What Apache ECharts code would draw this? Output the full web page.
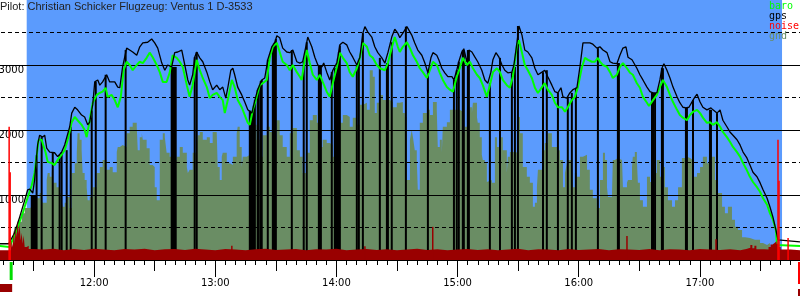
<!DOCTYPE html>
<html>
<head>
<meta charset="utf-8">
<script src="https://cdn.jsdelivr.net/npm/echarts@6/dist/echarts.min.js"></script>
<style>
html, body { margin: 0; padding: 0; background: #fff; }
#chart { width: 800px; height: 300px; }
</style>
</head>
<body>
<div id="chart"></div>
<script>
// time = minutes after midnight, heights in m
const title = 'Pilot: Christian Schicker Flugzeug: Ventus 1 D-3533';
const legendNames = ['baro', 'gps', 'noise', 'gnd'];
const legendColors = ['#00ff00', '#000000', '#ff0000', '#6a8d64'];
const solidLevels = [1000, 2000, 3000];
const dashLevels = [500, 1500, 2500, 3500];

const logStart = 673.2, takeoff = 678.9, landing = 1069.1;
const flight = [686.6, 1060.7]; // blue background span

const gps = [[673.2,250],[677.7,250],[678.2,250],[680.6,420],[683.1,660],[685.6,920],[687.1,1080],[688.1,1090],[689.6,1030],[690.5,1230],[692.0,1770],[693.0,1920],[694.5,1890],[695.5,1920],[696.5,1720],[698.0,1660],[700.4,1650],[701.9,1590],[703.9,1660],[705.4,1770],[707.9,2050],[708.9,2260],[710.4,2350],[711.8,2310],[713.8,2230],[715.3,2200],[716.8,2080],[717.8,2120],[719.3,2390],[720.3,2740],[721.8,2770],[722.8,2690],[724.2,2740],[726.2,2850],[727.7,2740],[730.2,2740],[731.7,2660],[732.7,2650],[734.1,2970],[736.1,3260],[737.6,3230],[739.1,3200],[741.1,3150],[742.6,3280],[744.1,3340],[746.5,3350],[748.5,3400],[750.0,3340],[751.5,3260],[753.5,3030],[755.0,2920],[756.4,3000],[758.4,2970],[759.9,3190],[761.4,3200],[763.4,3230],[764.9,3000],[766.4,2770],[767.3,2690],[768.8,2850],[769.8,3120],[770.8,3200],[772.3,3110],[773.8,3050],[775.8,2890],[777.3,2740],[778.7,2620],[780.7,2690],[782.2,2620],[783.7,2660],[785.2,2490],[786.2,2650],[787.7,2920],[788.7,2950],[789.6,2850],[791.1,2660],[793.1,2540],[794.6,2430],[796.1,2310],[798.1,2260],[799.6,2460],[801.0,2620],[803.0,2770],[804.5,2800],[806.0,3080],[808.0,3280],[809.5,3350],[810.5,3450],[811.9,3420],[813.4,3260],[815.4,3200],[816.9,3190],[818.4,3230],[820.4,3050],[821.9,3030],[823.3,3050],[825.3,3350],[825.8,3430],[827.8,3280],[829.3,3120],[830.8,3000],[832.8,2970],[833.7,3030],[835.2,2890],[836.7,2770],[838.2,2920],[840.2,3030],[841.7,3310],[843.2,3350],[845.1,3310],[846.6,3200],[848.1,3120],[850.1,3000],[851.6,3120],[853.1,3490],[854.1,3590],[855.5,3510],[857.5,3430],[859.0,3280],[860.5,3190],[862.5,3110],[864.0,3030],[865.5,3190],[867.4,3430],[868.9,3550],[870.4,3490],[871.4,3420],[872.9,3490],[874.9,3590],[875.4,3600],[877.3,3460],[878.8,3340],[880.3,3230],[882.3,3150],[883.8,3030],[885.3,2880],[886.8,3110],[887.8,3190],[889.7,3150],[890.7,3080],[892.2,2950],[893.7,2880],[895.2,2820],[897.2,2820],[898.2,2770],[899.6,2920],[900.6,3050],[902.1,3200],[903.1,3250],[904.6,3050],[905.6,3230],[907.1,3200],[908.6,3120],[910.0,3050],[912.0,2920],[913.5,2770],[915.0,2720],[916.5,2890],[917.5,3080],[919.0,3190],[920.5,3120],[922.0,3000],[923.4,2920],[924.9,2880],[926.9,2890],[927.9,3000],[929.4,3340],[930.4,3600],[931.9,3460],[933.3,3230],[934.8,3200],[936.8,3110],[938.3,2950],[939.8,2850],[941.8,2890],[943.2,2920],[944.7,2820],[946.7,2690],[948.2,2590],[949.7,2570],[951.2,2650],[952.2,2510],[954.1,2490],[955.6,2570],[957.1,2620],[959.1,2650],[960.6,2970],[962.1,3340],[964.1,3340],[965.5,3340],[967.0,3320],[969.0,3260],[970.5,3280],[972.0,3230],[974.0,3190],[975.5,3050],[976.9,3030],[978.9,3020],[980.4,3150],[981.9,3260],[983.4,3280],[984.4,3120],[986.4,3080],[988.8,2950],[990.3,2850],[991.8,2770],[993.8,2660],[995.3,2590],[996.8,2570],[998.7,2570],[1000.2,2770],[1001.2,2950],[1002.2,3020],[1003.7,2920],[1005.2,2800],[1006.7,2660],[1008.7,2510],[1010.1,2420],[1011.6,2350],[1013.1,2340],[1014.6,2350],[1016.6,2460],[1017.6,2510],[1018.6,2550],[1020.1,2430],[1021.5,2350],[1023.5,2310],[1025.5,2340],[1026.5,2310],[1028.5,2260],[1030.0,2310],[1031.4,2150],[1033.4,2050],[1034.9,1970],[1036.4,1920],[1038.4,1850],[1039.9,1770],[1041.4,1660],[1043.3,1570],[1044.8,1460],[1046.3,1350],[1048.3,1280],[1049.8,1190],[1051.3,1080],[1053.3,950],[1054.7,820],[1056.2,660],[1057.7,460],[1058.7,310],[1059.2,280],[1069.6,280]];

const baro = [[673.2,215],[678.2,200],[679.6,310],[681.6,460],[683.1,590],[684.6,720],[686.6,920],[689.1,1150],[690.5,1340],[691.5,1590],[692.5,1850],[694.0,1850],[694.5,1820],[696.0,1650],[697.0,1510],[699.0,1490],[700.4,1460],[701.9,1540],[703.9,1620],[705.4,1690],[706.9,1850],[708.9,2120],[710.4,2200],[711.8,2150],[713.8,2080],[715.3,2000],[716.3,1890],[717.8,2150],[719.3,2420],[721.3,2540],[722.8,2570],[724.2,2590],[725.7,2650],[726.7,2510],[728.7,2540],[730.2,2460],[731.7,2350],[733.2,2510],[734.6,2920],[736.1,3050],[737.6,3000],[739.1,2920],[741.1,3000],[742.6,3050],[744.1,3030],[746.0,3110],[747.5,3190],[749.0,3120],[751.0,3000],[752.5,2890],[754.0,2740],[755.9,2740],[757.4,2880],[758.9,3150],[760.9,3110],[762.4,3050],[763.9,2970],[765.9,2690],[767.3,2510],[768.8,2690],[770.8,3080],[772.3,2920],[773.8,2800],[775.8,2660],[777.3,2490],[778.7,2540],[780.7,2570],[782.2,2510],[783.7,2460],[784.7,2260],[786.2,2460],[788.2,2770],[789.6,2660],[791.1,2460],[793.1,2350],[794.6,2230],[796.1,2110],[797.1,2080],[798.6,2310],[800.5,2510],[802.0,2690],[803.5,2720],[805.5,2770],[807.0,3110],[808.5,3280],[810.5,3340],[811.9,3200],[813.4,3050],[815.4,3000],[816.9,2920],[818.4,3000],[820.4,2890],[821.9,2820],[822.8,2770],[824.3,3080],[825.3,3230],[826.8,3030],[828.3,2850],[830.3,2770],[831.8,2850],[833.2,2740],[835.2,2590],[836.7,2510],[838.2,2720],[840.2,2970],[841.7,3190],[843.2,3110],[845.1,3030],[846.6,2890],[848.1,2820],[850.1,2950],[851.6,3110],[853.1,3340],[855.1,3280],[856.5,3150],[858.0,3110],[860.0,3000],[861.5,2950],[864.0,2920],[865.5,3030],[867.4,3260],[868.9,3430],[870.4,3280],[871.4,3200],[872.9,3280],[874.9,3350],[876.4,3260],[877.9,3150],[879.8,3050],[881.3,2950],[882.8,2890],[884.8,2800],[886.3,2920],[887.8,3050],[889.7,3000],[891.2,2880],[892.7,2770],[894.7,2660],[896.2,2620],[897.7,2590],[899.6,2820],[901.1,2950],[902.6,3110],[904.6,3000],[906.1,3050],[907.6,2950],[909.6,2850],[911.0,2800],[912.5,2690],[914.5,2510],[916.0,2690],[917.5,2890],[919.5,2950],[921.0,2890],[922.4,2770],[924.4,2690],[925.9,2650],[927.4,2820],[929.4,3310],[930.4,3380],[931.9,3190],[933.3,3000],[934.8,2920],[936.8,2800],[938.3,2650],[939.8,2570],[941.8,2660],[943.2,2720],[944.7,2620],[946.7,2540],[948.2,2420],[949.7,2350],[951.7,2350],[953.2,2280],[954.6,2350],[956.6,2460],[958.1,2510],[959.6,2660],[961.6,2970],[963.1,3110],[964.6,3080],[966.5,3050],[968.0,3050],[969.5,3110],[970.5,3050],[972.0,3000],[974.0,2970],[975.5,2890],[976.9,2800],[978.9,2850],[980.4,2970],[981.9,3030],[983.9,2950],[985.4,2880],[986.8,2850],[988.8,2720],[990.3,2650],[991.8,2510],[993.8,2420],[994.8,2370],[996.8,2460],[998.7,2540],[1000.2,2660],[1001.7,2770],[1003.7,2660],[1005.2,2540],[1006.7,2430],[1008.7,2310],[1010.1,2230],[1011.6,2190],[1013.6,2150],[1015.1,2230],[1016.6,2280],[1018.6,2310],[1020.1,2260],[1021.5,2190],[1023.5,2110],[1025.0,2120],[1026.5,2080],[1028.5,2120],[1030.0,2050],[1031.4,1970],[1033.4,1890],[1034.9,1820],[1036.4,1740],[1038.4,1660],[1039.9,1590],[1041.4,1490],[1043.3,1380],[1044.8,1280],[1046.3,1200],[1048.3,1120],[1049.8,1050],[1051.3,950],[1053.3,850],[1054.7,720],[1056.2,620],[1057.7,460],[1058.2,230],[1069.6,215]];

const gnd = [[673.2,0],[680.1,0],[680.6,420],[682.1,510],[684.1,590],[685.6,720],[686.6,800],[688.1,800],[689.6,820],[691.5,920],[692.0,1000],[693.0,950],[694.0,1030],[694.5,920],[696.5,880],[697.0,1230],[698.0,1340],[699.0,1280],[699.5,1390],[701.4,1190],[702.9,1120],[703.9,1030],[704.4,920],[705.4,820],[706.4,880],[707.9,970],[708.9,800],[710.4,1340],[711.4,1490],[711.8,1650],[712.8,1950],[713.8,1850],[714.3,1690],[715.3,1340],[716.3,1230],[716.8,1120],[717.8,920],[719.3,970],[721.3,1120],[722.8,1340],[724.2,1430],[726.2,1540],[727.7,1390],[729.2,1430],[731.2,1350],[731.7,1660],[732.7,1740],[734.1,1770],[736.1,1740],[737.6,1950],[739.1,2050],[741.1,2110],[741.6,2050],[742.6,1690],[743.6,1890],[744.1,1950],[746.0,1850],[747.5,1720],[749.0,1460],[750.0,1430],[751.0,1120],[752.5,920],[754.0,1850],[755.0,1950],[755.9,1890],[757.4,1650],[758.9,1590],[760.9,1540],[762.4,1590],[763.9,1740],[765.9,1650],[766.4,1430],[767.3,1340],[768.8,1390],[770.8,1650],[771.3,1740],[772.3,1920],[773.8,1970],[775.8,1850],[777.3,1890],[778.7,1800],[780.7,1970],[781.2,2000],[782.2,1430],[783.2,1230],[783.7,1590],[785.7,1650],[787.2,1490],[788.7,1460],[790.6,1590],[791.1,1950],[792.1,2050],[793.1,1740],[793.6,1430],[795.6,1590],[797.1,1620],[798.6,2000],[800.5,2080],[802.0,1850],[803.5,1590],[805.5,1920],[807.0,2050],[808.5,1970],[810.5,1850],[811.9,2150],[813.4,1920],[815.4,1740],[816.9,1590],[818.4,1950],[820.4,2030],[821.9,1690],[823.3,1590],[825.3,1340],[826.8,1650],[828.3,2150],[830.3,2230],[831.8,2110],[833.2,1740],[835.2,1850],[836.7,1800],[838.2,1770],[840.2,1590],[841.7,2050],[843.2,2110],[845.1,2230],[846.6,2200],[848.1,2050],[850.1,2190],[851.6,2080],[853.1,2390],[855.1,2420],[856.5,2310],[858.0,2920],[859.0,2820],[860.0,2260],[861.5,2420],[863.0,2540],[865.0,2460],[866.4,2460],[867.9,2430],[869.9,2350],[871.4,2420],[872.9,2430],[873.9,2260],[874.9,2200],[876.4,1230],[877.3,1850],[877.9,2000],[878.8,1890],[879.8,1690],[880.3,1540],[881.3,1080],[882.8,2110],[884.8,2260],[885.3,2430],[886.3,2310],[887.8,2230],[889.7,2430],[890.2,2310],[891.2,1740],[892.2,1850],[892.7,1650],[894.7,2050],[896.2,2120],[897.2,2310],[899.6,2310],[901.1,2310],[902.6,2280],[903.6,1970],[904.6,2050],[906.1,2310],[907.1,2350],[907.6,2260],[909.6,2420],[910.0,2200],[911.0,2110],[912.0,1890],[912.5,1620],[913.5,1540],[914.5,1490],[915.0,1200],[917.0,1230],[918.5,1190],[919.5,1890],[921.0,1740],[922.4,1890],[924.4,1690],[924.9,1340],[925.9,1590],[926.9,1660],[928.4,1660],[929.9,1650],[930.9,2200],[932.3,1950],[934.3,1430],[935.8,1280],[937.3,1190],[938.3,820],[939.3,880],[939.8,1120],[941.8,1390],[943.2,1690],[944.7,1800],[946.7,1950],[948.2,1740],[949.7,1740],[950.7,1690],[952.2,1540],[953.2,1120],[954.1,1340],[954.6,1490],[956.6,1540],[957.1,1430],[958.1,1120],[959.1,1340],[960.6,1280],[962.1,1590],[964.1,1620],[965.5,1390],[967.0,1080],[969.0,950],[970.5,800],[972.0,1230],[973.0,1650],[974.0,1540],[974.5,1120],[976.4,970],[976.9,920],[977.9,1540],[979.4,1570],[981.4,1540],[981.9,1590],[983.9,1120],[984.4,1190],[986.4,1230],[986.8,1430],[987.8,1590],[988.8,1660],[989.3,1540],[990.3,1190],[991.8,920],[993.8,820],[995.3,1280],[996.8,1200],[998.7,1340],[1000.2,1540],[1001.2,1280],[1002.7,1430],[1004.2,1120],[1006.2,920],[1007.7,820],[1009.2,920],[1011.1,1120],[1012.6,1570],[1013.6,1590],[1015.1,1570],[1016.6,1540],[1018.6,1280],[1020.1,1340],[1021.5,1430],[1023.5,1590],[1025.0,1490],[1027.5,1590],[1029.0,1230],[1031.0,1030],[1032.4,820],[1033.9,720],[1035.9,820],[1037.4,620],[1038.9,510],[1040.9,460],[1042.4,350],[1044.8,340],[1047.3,310],[1049.8,310],[1051.3,260],[1053.3,230],[1054.7,260],[1056.2,200],[1058.2,190],[1059.7,0],[1069.6,0]];

const noise = [[673.2,150],[677.5,150],[678.7,160],[679.2,300],[679.7,200],[680.2,450],[680.7,250],[681.1,500],[681.6,350],[682.1,600],[682.6,400],[683.1,550],[683.6,300],[684.1,420],[684.6,250],[685.1,380],[685.6,200],[686.6,220],[687.6,170],[690,160],[695,175],[700,150],[705,170],[710,155],[715,175],[720,160],[725,150],[730,170],[735,160],[740,175],[745,150],[750,165],[755,170],[760,155],[765,175],[770,160],[775,150],[780,170],[785,160],[790,150],[795,165],[800,175],[805,155],[810,160],[815,170],[820,150],[825,165],[830,160],[835,175],[840,150],[845,160],[850,170],[855,155],[860,165],[865,150],[870,160],[875,175],[880,155],[885,165],[890,150],[895,160],[900,170],[905,155],[910,165],[915,150],[920,160],[925,175],[930,150],[935,165],[940,160],[945,150],[950,170],[955,155],[960,160],[965,170],[970,150],[975,165],[980,160],[985,155],[990,170],[995,150],[1000,165],[1005,160],[1010,150],[1015,170],[1020,160],[1025,155],[1030,165],[1035,150],[1040,170],[1043,190],[1045,230],[1046,180],[1047,220],[1048,165],[1052,160],[1054,200],[1055,240],[1056,260],[1057,290],[1058,250],[1059,200],[1060,160],[1065,150],[1069.6,150]];

const noiseSpikes = [[677.9,2050],[678.4,1350],[1058.7,1850],[1059.2,1220],[1063.7,340]];
const noiseBumps = [[788.2,220],[854.1,210],[887.7,510],[983.9,370],[1028.0,320]];

// gps drop-outs, drawn from the ground up to the reading
const dropouts = [[689.1,1000],[689.6,1000],[690.1,1000],[690.5,1000],[691.0,1000],[691.5,1610],[694.0,1890],[699.5,1650],[702.9,1620],[703.9,1660],[706.4,1690],[708.4,2050],[718.8,2300],[720.8,2740],[725.7,2850],[735.6,3230],[758.4,2970],[758.9,2970],[759.4,2970],[759.9,2970],[760.4,2970],[769.8,3120],[770.8,3200],
  [797.1,2300],[797.6,2280],[798.1,2260],[798.6,2300],[799.1,2380],[799.6,2460],[801.0,2620],[801.5,2650],[802.5,2750],[803.0,2770],[806.0,3080],[808.5,3300],[809.0,3330],[809.5,3350],[810.0,3400],[817.9,3230],[823.8,3050],[825.3,3350],[831.3,3000],[831.8,2990],[832.3,2970],[837.7,2890],[839.2,2950],[839.7,2950],[840.2,3030],[840.7,3100],[841.2,3200],[841.7,3300],[850.1,3000],[851.1,3080],[853.1,3490],[861.5,3110],[865.0,3030],[865.5,3030],[867.4,3350],
  [874.4,3590],[885.3,2880],[898.2,2770],[899.6,2920],[900.6,3050],[902.6,3230],[903.1,3230],[905.1,3230],[905.6,3230],[916.0,2720],[921.0,3110],[926.9,2890],[928.4,2970],[929.9,3600],[942.3,2890],[944.2,2920],[949.7,2570],[954.6,2510],[956.6,2570],[958.6,2650],[969.5,3260],
  [979.4,3030],[979.9,3030],[996.3,2570],[996.8,2570],[997.8,2570],[1001.2,2950],[1001.7,2950],[1013.1,2340],[1013.6,2340],[1016.6,2460],[1025.0,2310],[1025.5,2310],[1028.5,2260]];

const chart = echarts.init(document.getElementById('chart'));
const hhmm = v => Math.floor(v / 60) + ':' + String(v % 60).padStart(2, '0');

function timeAxis(interval, len, labels) {
  return {
    type: 'value', min: 660, max: 1080, interval: interval, position: 'bottom',
    axisLine: { show: true, lineStyle: { color: '#000', width: 1 } },
    axisTick: { show: true, length: len, lineStyle: { color: '#000', width: 1 } },
    axisLabel: { show: labels, margin: 18, formatter: hhmm, color: '#000', fontFamily: 'DejaVu Sans', fontSize: 10 },
    splitLine: { show: false }
  };
}

const option = {
  animation: false,
  backgroundColor: '#fff',
  title: {
    text: title, left: 0, top: 1, padding: 0,
    textStyle: { fontFamily: 'Liberation Sans', fontSize: 11, fontWeight: 'normal', color: '#222' }
  },
  grid: { left: -27, right: -21, top: 0, bottom: 40, containLabel: false, outerBoundsMode: 'none' },
  xAxis: [timeAxis(5, 5, false), timeAxis(30, 11, false), timeAxis(60, 17, true)],
  yAxis: {
    type: 'value', min: 0, max: 4000, interval: 1000,
    axisLine: { show: false }, axisTick: { show: false }, splitLine: { show: false },
    axisLabel: {
      inside: true, margin: 51, align: 'right', verticalAlign: 'top',
      color: '#000', fontFamily: 'DejaVu Sans', fontSize: 10,
      formatter: v => solidLevels.indexOf(v) >= 0 ? String(v) : ''
    }
  },
  series: [
    {
      type: 'line', data: [], z: 0, silent: true,
      markArea: { silent: true, z: 0, itemStyle: { color: '#5b9bfd', opacity: 1 },
        data: [[{ xAxis: flight[0] }, { xAxis: flight[1] }]] }
    },
    {
      name: 'gnd', type: 'line', data: gnd, step: 'start', z: 1, showSymbol: false,
      lineStyle: { width: 0 }, areaStyle: { color: '#6a8d64', opacity: 1 }
    },
    {
      type: 'line', data: [], z: 2, silent: true,
      markLine: {
        silent: true, z: 2, symbol: 'none', label: { show: false },
        lineStyle: { color: '#000', width: 1 },
        data: solidLevels.map(v => ({ yAxis: v, lineStyle: { type: 'solid' } }))
          .concat(dashLevels.map(v => ({ yAxis: v, lineStyle: { type: [4, 3] } })))
      }
    },
    {
      type: 'bar', xAxisIndex: 1, data: dropouts, barWidth: 2, z: 3,
      itemStyle: { color: '#000' }
    },
    {
      name: 'baro', type: 'line', data: baro, z: 4, showSymbol: false,
      lineStyle: { color: '#00ff00', width: 2 }
    },
    {
      name: 'gps', type: 'line', data: gps, z: 5, showSymbol: false,
      lineStyle: { color: '#000', width: 1.3 }
    },
    {
      name: 'noise', type: 'line', data: noise, step: 'end', z: 6, showSymbol: false,
      lineStyle: { width: 0 }, areaStyle: { color: '#990000', opacity: 1 }
    },
    {
      type: 'bar', xAxisIndex: 2, barWidth: 1.5, z: 7,
      data: noiseSpikes.map(d => ({ value: d, itemStyle: { color: '#ff0000' } }))
        .concat(noiseBumps.map(d => ({ value: d, itemStyle: { color: '#990000' } })))
    }
  ]
};
chart.setOption(option);

// markers under the time axis and the legend
const px = t => chart.convertToPixel({ xAxisIndex: 0 }, t);
const graphics = legendNames.map((n, i) => ({
  type: 'text', z: 100,
  style: { text: n, x: 769, y: 6.5 + 10 * i, fill: legendColors[i], font: '10px "DejaVu Sans Mono"', verticalAlign: 'middle' }
}));
graphics.push(
  { type: 'line', z: 100, shape: { x1: px(takeoff), y1: 262, x2: px(takeoff), y2: 280 }, style: { stroke: '#00dd00', lineWidth: 3 } },
  { type: 'rect', z: 100, shape: { x: px(logStart), y: 284, width: px(takeoff) - px(logStart) + 1, height: 8 }, style: { fill: '#990000' } },
  { type: 'line', z: 100, shape: { x1: px(landing), y1: 262, x2: px(landing), y2: 284 }, style: { stroke: '#ff0000', lineWidth: 2 } },
  { type: 'line', z: 100, shape: { x1: px(landing), y1: 289, x2: px(landing), y2: 296 }, style: { stroke: '#990000', lineWidth: 2 } }
);
chart.setOption({ graphic: graphics });
</script>
</body>
</html>
